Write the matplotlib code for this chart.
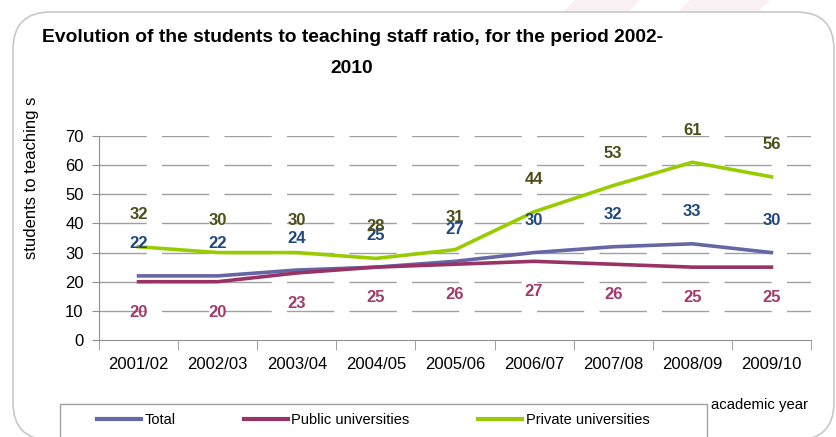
import matplotlib.pyplot as plt
from matplotlib.patches import FancyBboxPatch, Rectangle, Polygon
from matplotlib.lines import Line2D

years = ["2001/02", "2002/03", "2003/04", "2004/05", "2005/06",
         "2006/07", "2007/08", "2008/09", "2009/10"]
total = [22, 22, 24, 25, 27, 30, 32, 33, 30]
public = [20, 20, 23, 25, 26, 27, 26, 25, 25]
private = [32, 30, 30, 28, 31, 44, 53, 61, 56]
yticks = [0, 10, 20, 30, 40, 50, 60, 70]

c_total, c_public, c_private = "#6666A6", "#993366", "#99CC00"
lab_total, lab_public, lab_private = "#1F497D", "#A33A6E", "#4D4D1A"

plt.rcParams["font.family"] = ["Liberation Sans", "DejaVu Sans"]

W, H = 836, 437
fig = plt.figure(figsize=(W / 100, H / 100), dpi=100)
fig.patch.set_facecolor("white")

# faint background stripes above the frame
for xs in ([575, 640, 628, 563], [690, 770, 758, 678]):
    fig.patches.append(Polygon([(xs[0] / W, 1.0), (xs[1] / W, 1.0),
                                (xs[2] / W, 1 - 12 / H), (xs[3] / W, 1 - 12 / H)],
                               closed=True, transform=fig.transFigure,
                               fc="#F9F0F3", ec="none"))

# rounded frame around the chart
frame = FancyBboxPatch((13 / W, 1 - 440 / H), 821 / W, 428 / H,
                       boxstyle="round,pad=0,rounding_size=0.045",
                       transform=fig.transFigure, fill=False,
                       ec="#C8C8C8", lw=1.2, mutation_aspect=W / H)
fig.patches.append(frame)

ax = fig.add_axes([99 / W, 1 - 340 / H, 712 / W, 204 / H])
x = list(range(len(years)))

for y in yticks[1:]:
    ax.axhline(y, color="#A0A0A0", lw=1, dashes=(34, 11), zorder=1)

ax.plot(x, total, color=c_total, lw=2.6, zorder=3)
ax.plot(x, public, color=c_public, lw=2.6, zorder=3)
ax.plot(x, private, color=c_private, lw=2.6, zorder=3)

def labels(vals, color, dy):
    for xi, v in zip(x, vals):
        ax.annotate(str(v), (xi, v), xytext=(0, dy), textcoords="offset points",
                    ha="center", va="center", color=color, fontsize=12,
                    fontweight="bold", annotation_clip=False, zorder=4)

labels(total, lab_total, 23)
labels(private, lab_private, 23)
labels(public, lab_public, -22)

ax.set_xlim(-0.5, len(years) - 0.5)
ax.set_ylim(0, 70)
ax.set_yticks(yticks)
ax.set_xticks(x)
ax.set_xticklabels(years)
ax.set_xticks([i - 0.5 for i in range(len(years) + 1)], minor=True)
ax.tick_params(axis="x", which="major", length=0, pad=12, labelsize=12)
ax.tick_params(axis="x", which="minor", length=7, color="#909090")
ax.tick_params(axis="y", length=5, color="#909090", pad=6, labelsize=12)
for s in ["top", "right"]:
    ax.spines[s].set_visible(False)
for s in ["left", "bottom"]:
    ax.spines[s].set_color("#909090")

fig.text(352 / W, 1 - 53 / H,
         "Evolution of the students to teaching staff ratio, for the period 2002-\n2010",
         ha="center", va="center", multialignment="center", fontsize=13.9,
         fontweight="bold", linespacing=2.1)
fig.text(32 / W, 1 - 178 / H, "students to teaching s", rotation=90,
         ha="center", va="center", fontsize=12)
fig.text(808 / W, 1 - 405 / H, "academic year", ha="right", va="center",
         fontsize=10.7)

# legend
fig.patches.append(Rectangle((60 / W, 1 - 445 / H), 647 / W, 41 / H,
                             transform=fig.transFigure, fill=False,
                             ec="#A0A0A0", lw=1))
handles = [Line2D([], [], color=c, lw=3) for c in (c_total, c_public, c_private)]
fig.legend(handles, ["Total", "Public universities", "Private universities"],
           loc="center left", bbox_to_anchor=(97 / W, 1 - 420 / H), ncol=3,
           frameon=False, handlelength=3.0, handletextpad=0.25,
           columnspacing=4.7, prop={"size": 10.5},
           borderaxespad=0, borderpad=0)

fig.savefig("out.png", dpi=100, facecolor="white")
